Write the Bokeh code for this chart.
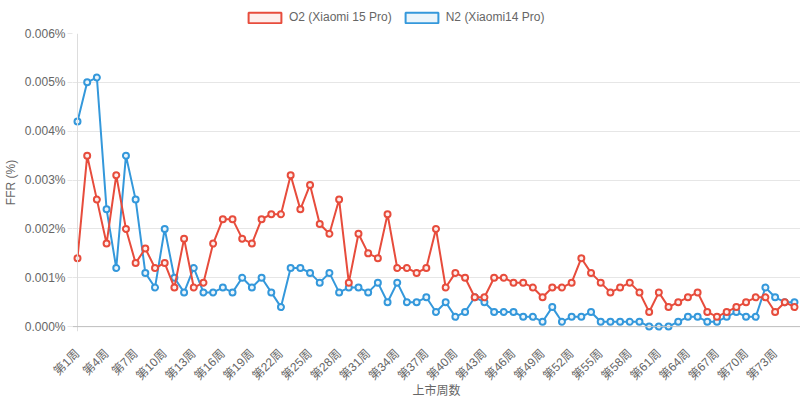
from bokeh.plotting import figure
from bokeh.layouts import column
from bokeh.models import (FixedTicker, PrintfTickFormatter, Range1d, Span, Legend,
                          LegendItem, ColumnDataSource)
from bokeh.embed import file_html
from bokeh.resources import INLINE

weeks = list(range(1, 76))
o2 = [0.0014, 0.0035, 0.0026, 0.0017, 0.0031, 0.0020, 0.0013, 0.0016, 0.0012, 0.0013,
      0.0008, 0.0018, 0.0008, 0.0009, 0.0017, 0.0022, 0.0022, 0.0018, 0.0017, 0.0022,
      0.0023, 0.0023, 0.0031, 0.0024, 0.0029, 0.0021, 0.0019, 0.0026, 0.0009, 0.0019,
      0.0015, 0.0014, 0.0023, 0.0012, 0.0012, 0.0011, 0.0012, 0.0020, 0.0008, 0.0011,
      0.0010, 0.0006, 0.0006, 0.0010, 0.0010, 0.0009, 0.0009, 0.0008, 0.0006, 0.0008,
      0.0008, 0.0009, 0.0014, 0.0011, 0.0009, 0.0007, 0.0008, 0.0009, 0.0007, 0.0003,
      0.0007, 0.0004, 0.0005, 0.0006, 0.0007, 0.0003, 0.0002, 0.0003, 0.0004, 0.0005,
      0.0006, 0.0006, 0.0003, 0.0005, 0.0004]
n2 = [0.0042, 0.0050, 0.0051, 0.0024, 0.0012, 0.0035, 0.0026, 0.0011, 0.0008, 0.0020,
      0.0010, 0.0007, 0.0012, 0.0007, 0.0007, 0.0008, 0.0007, 0.0010, 0.0008, 0.0010,
      0.0007, 0.0004, 0.0012, 0.0012, 0.0011, 0.0009, 0.0011, 0.0007, 0.0008, 0.0008,
      0.0007, 0.0009, 0.0005, 0.0009, 0.0005, 0.0005, 0.0006, 0.0003, 0.0005, 0.0002,
      0.0003, 0.0006, 0.0005, 0.0003, 0.0003, 0.0003, 0.0002, 0.0002, 0.0001, 0.0004,
      0.0001, 0.0002, 0.0002, 0.0003, 0.0001, 0.0001, 0.0001, 0.0001, 0.0001, 0.0000,
      0.0000, 0.0000, 0.0001, 0.0002, 0.0002, 0.0001, 0.0001, 0.0002, 0.0003, 0.0002,
      0.0002, 0.0008, 0.0006, 0.0005, 0.0005]
series_names = ["O2 (Xiaomi 15 Pro)", "N2 (Xiaomi14 Pro)"]
tick_weeks = weeks[::3]
tick_labels = [f"第{w}周" for w in tick_weeks]
y_ticks = [0.0, 0.001, 0.002, 0.003, 0.004, 0.005, 0.006]
x_title = "上市周数"
y_title = "FFR (%)"

RED, RED_FILL = "#e74c3c", "#fdeeec"
BLUE, BLUE_FILL = "#3498db", "#ebf5fb"
TXT = "#666666"
LATIN = "'Liberation Sans', 'Noto Sans CJK SC'"
CJK = "'Noto Sans CJK SC'"

W = 800
LEG_H = 26
H = 400 - LEG_H

src = ColumnDataSource(dict(week=weeks, o2=o2, n2=n2))

# ---- legend strip (separate figure on top) ----
lf = figure(width=W, height=LEG_H, output_backend="svg", toolbar_location=None,
            x_range=Range1d(0, 1), y_range=Range1d(0, 1),
            x_axis_location=None, y_axis_location=None,
            min_border_left=0, min_border_right=0, min_border_top=0, min_border_bottom=0)
lf.outline_line_color = None
lf.xgrid.visible = False
lf.ygrid.visible = False
# legend swatches: hidden proxy renderers (only their legend glyph is shown)
leg_o2 = lf.quad(left="week", right="week", top="o2", bottom="o2", source=src,
                 fill_color=RED_FILL, line_color=RED, line_width=2, visible=False)
leg_n2 = lf.quad(left="week", right="week", top="n2", bottom="n2", source=src,
                 fill_color=BLUE_FILL, line_color=BLUE, line_width=2, visible=False)
legend = Legend(items=[LegendItem(label=series_names[0], renderers=[leg_o2]),
                       LegendItem(label=series_names[1], renderers=[leg_n2])],
                orientation="horizontal", location=(172, 2),
                glyph_width=41, glyph_height=13, label_height=13, label_width=10,
                padding=0, margin=0, spacing=9, label_standoff=4,
                border_line_color=None, background_fill_alpha=0,
                inactive_fill_alpha=0,
                label_text_font=LATIN, label_text_font_size="12px",
                label_text_color=TXT)
lf.add_layout(legend, "center")

# ---- main chart ----
p = figure(width=W, height=H, output_backend="svg", toolbar_location=None,
           x_range=Range1d(0.484, 75.62), y_range=Range1d(-0.0001, 0.006),
           min_border_left=72, min_border_right=0, min_border_top=33 - LEG_H,
           min_border_bottom=69)
p.outline_line_color = None
p.background_fill_color = "white"

p.line("week", "n2", source=src, line_color=BLUE, line_width=2)
p.scatter("week", "n2", source=src, size=6, line_width=2, line_color=BLUE, fill_color=BLUE_FILL)
p.line("week", "o2", source=src, line_color=RED, line_width=2)
p.scatter("week", "o2", source=src, size=6, line_width=2, line_color=RED, fill_color=RED_FILL)

p.xgrid.visible = False
p.ygrid.ticker = FixedTicker(ticks=y_ticks)
p.ygrid.grid_line_color = "#e6e6e6"
p.ygrid.grid_line_width = 1

p.xaxis.ticker = FixedTicker(ticks=tick_weeks)
p.xaxis.major_label_overrides = {w: l for w, l in zip(tick_weeks, tick_labels)}
p.xaxis.major_label_orientation = 0.785
p.xaxis.axis_line_color = None
p.xaxis.major_tick_line_color = None
p.xaxis.minor_tick_line_color = None
p.xaxis.major_label_text_font = LATIN
p.xaxis.major_label_text_font_size = "12px"
p.xaxis.major_label_text_color = TXT
p.xaxis.major_label_standoff = 14
p.xaxis.axis_label = x_title
p.xaxis.axis_label_text_font = CJK
p.xaxis.axis_label_text_font_size = "12px"
p.xaxis.axis_label_text_font_style = "normal"
p.xaxis.axis_label_text_color = TXT
p.xaxis.axis_label_standoff = -10

p.yaxis.ticker = FixedTicker(ticks=y_ticks)
p.yaxis.formatter = PrintfTickFormatter(format="%.3f%%")
p.yaxis.axis_line_color = None
p.yaxis.major_tick_line_color = "#e6e6e6"
p.yaxis.major_tick_out = 5
p.yaxis.major_tick_in = 0
p.yaxis.minor_tick_line_color = None
p.yaxis.major_label_text_font = LATIN
p.yaxis.major_label_text_font_size = "12px"
p.yaxis.major_label_text_color = TXT
p.yaxis.major_label_standoff = 2
p.yaxis.axis_label = y_title
p.yaxis.axis_label_text_font = LATIN
p.yaxis.axis_label_text_font_size = "12px"
p.yaxis.axis_label_text_font_style = "normal"
p.yaxis.axis_label_text_color = TXT
p.yaxis.axis_label_standoff = 4

p.add_layout(Span(location=1, dimension="height", line_color="#dddddd", line_width=1))
p.add_layout(Span(location=0, dimension="width", line_color="#bfbfbf", line_width=1))

page = column(lf, p, spacing=0)
open("out.html", "w").write(file_html(page, INLINE))
